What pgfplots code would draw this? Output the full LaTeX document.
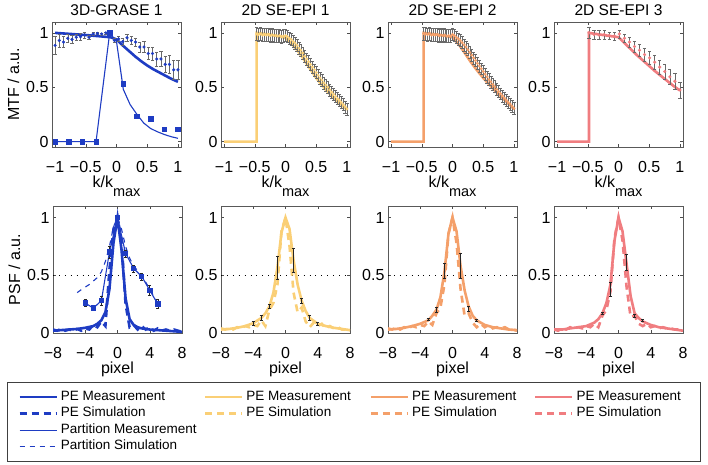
\documentclass[border=0pt]{standalone}
\usepackage{fontspec}
\setmainfont{Liberation Sans}
\usepackage{pgfplots}
\usepackage{pgfplotstable}
\pgfplotsset{compat=1.18}
\definecolor{cB}{RGB}{30,60,195}
\definecolor{cY}{RGB}{250,207,118}
\definecolor{cO}{RGB}{244,160,106}
\definecolor{cP}{RGB}{240,125,128}
\definecolor{cE}{RGB}{105,105,105}

\tikzset{
 thk/.style={line width=2.6pt},
 thn/.style={line width=1.1pt},
 thkd/.style={line width=2.6pt, dash pattern=on 7pt off 5pt},
 thnd/.style={line width=1.1pt, dash pattern=on 5pt off 5pt},
}
\pgfplotsset{
 base/.style={scale only axis, width=129pt, anchor=south west,
   axis line style={draw=black!65, line width=0.6pt},
   tick align=inside, major tick length=3pt, tick style={black!70, line width=0.5pt},
   ticklabel style={font=\fontsize{16}{19}\selectfont},
   label style={font=\fontsize{16}{19}\selectfont},
   title style={font=\fontsize{15.5}{18}\selectfont, yshift=-3pt},
   xticklabel style={anchor=base, yshift=-25pt},
   xlabel style={at={(axis description cs:0.5,0)}, anchor=base, yshift=-40pt},
   ytick={0,0.5,1}, yticklabels={0,0.5,1}},
 mtf/.style={base, height=125pt, xmin=-1.05, xmax=1.05, ymin=-0.05, ymax=1.1,
   xtick={-1,-0.5,0,0.5,1}, xticklabels={−1,−0.5,0,0.5,1},
   xlabel={k/k\raisebox{-9pt}{\fontsize{14.5}{15}\selectfont max}}},
 psf/.style={base, height=127pt, xmin=-8, xmax=8, ymin=0, ymax=1.1,
   xtick={-8,-4,0,4,8}, xticklabels={−8,−4,0,4,8}, xlabel={pixel}},
 eb/.style={error bars/.cd, y dir=both, y explicit,
   error bar style={draw=cE, line width=0.5pt, solid},
   error mark options={rotate=90, mark size=1.6pt, draw=cE, line width=0.5pt, solid}},
 ebk/.style={error bars/.cd, y dir=both, y explicit,
   error bar style={draw=black!85, line width=0.6pt, solid},
   error mark options={rotate=90, mark size=1.6pt, draw=black!85, line width=0.6pt, solid}},
}

\pgfplotstableread{
x y e
-1.000 0.885 0.080
-0.931 0.930 0.060
-0.862 0.915 0.050
-0.793 0.950 0.040
-0.724 0.940 0.040
-0.655 0.960 0.030
-0.586 0.965 0.030
-0.517 0.980 0.025
-0.448 0.960 0.020
-0.379 0.990 0.015
-0.310 0.995 0.010
-0.241 0.990 0.010
-0.172 1.000 0.010
-0.103 0.990 0.010
-0.034 0.930 0.020
0.034 0.945 0.025
0.103 0.920 0.030
0.172 0.955 0.030
0.241 0.930 0.035
0.310 0.915 0.040
0.379 0.870 0.045
0.448 0.870 0.050
0.517 0.810 0.055
0.586 0.810 0.060
0.655 0.760 0.065
0.724 0.760 0.070
0.793 0.710 0.075
0.862 0.710 0.080
0.931 0.660 0.085
1.000 0.660 0.090
}\tOneM

\pgfplotstableread{
x y e
-0.469 0.990 0.06
-0.438 0.985 0.06
-0.406 0.990 0.06
-0.375 0.980 0.06
-0.344 0.985 0.06
-0.313 0.980 0.06
-0.281 0.985 0.06
-0.250 0.975 0.06
-0.219 0.980 0.06
-0.188 0.975 0.06
-0.156 0.975 0.06
-0.125 0.970 0.06
-0.094 0.975 0.06
-0.063 0.965 0.06
-0.031 0.970 0.06
0.000 0.975 0.055
0.031 0.965 0.055
0.063 0.950 0.055
0.094 0.940 0.055
0.125 0.920 0.055
0.156 0.905 0.055
0.188 0.885 0.055
0.219 0.860 0.055
0.250 0.840 0.055
0.281 0.815 0.055
0.313 0.785 0.055
0.344 0.760 0.055
0.375 0.735 0.055
0.406 0.710 0.055
0.438 0.685 0.055
0.469 0.660 0.055
0.500 0.635 0.055
0.531 0.610 0.055
0.563 0.585 0.055
0.594 0.565 0.055
0.625 0.540 0.055
0.656 0.520 0.055
0.688 0.500 0.055
0.719 0.475 0.055
0.750 0.455 0.055
0.781 0.435 0.055
0.813 0.415 0.055
0.844 0.395 0.055
0.875 0.380 0.055
0.906 0.360 0.055
0.938 0.340 0.055
0.969 0.320 0.055
1.000 0.300 0.055
}\tTwoM

\pgfplotstableread{
x y e
-0.469 0.995 0.06
-0.438 0.990 0.06
-0.406 0.985 0.06
-0.375 0.990 0.06
-0.344 0.980 0.06
-0.313 0.985 0.06
-0.281 0.980 0.06
-0.250 0.985 0.06
-0.219 0.975 0.06
-0.188 0.980 0.06
-0.156 0.975 0.06
-0.125 0.980 0.06
-0.094 0.970 0.06
-0.063 0.975 0.06
-0.031 0.970 0.06
0.000 0.985 0.055
0.031 0.975 0.055
0.063 0.960 0.055
0.094 0.945 0.055
0.125 0.930 0.055
0.156 0.910 0.055
0.188 0.890 0.055
0.219 0.870 0.055
0.250 0.845 0.055
0.281 0.820 0.055
0.313 0.795 0.055
0.344 0.770 0.055
0.375 0.745 0.055
0.406 0.720 0.055
0.438 0.695 0.055
0.469 0.670 0.055
0.500 0.645 0.055
0.531 0.620 0.055
0.563 0.595 0.055
0.594 0.570 0.055
0.625 0.550 0.055
0.656 0.525 0.055
0.688 0.505 0.055
0.719 0.480 0.055
0.750 0.460 0.055
0.781 0.440 0.055
0.813 0.420 0.055
0.844 0.400 0.055
0.875 0.380 0.055
0.906 0.360 0.055
0.938 0.345 0.055
0.969 0.325 0.055
1.000 0.305 0.055
}\tThreeM

\pgfplotstableread{
x y e
-0.480 1.000 0.050
-0.398 0.985 0.040
-0.316 0.980 0.040
-0.233 0.985 0.040
-0.151 0.975 0.035
-0.069 0.970 0.035
0.013 0.990 0.035
0.096 0.950 0.040
0.178 0.915 0.045
0.260 0.875 0.050
0.342 0.840 0.055
0.424 0.800 0.060
0.507 0.770 0.060
0.589 0.730 0.065
0.671 0.685 0.065
0.753 0.645 0.070
0.836 0.595 0.070
0.918 0.555 0.075
1.000 0.475 0.075
}\tFourM

\begin{document}
\begin{tikzpicture}
\useasboundingbox (0,0) rectangle (708pt,464pt);

% ---------------- MTF row ----------------
\begin{axis}[mtf, at={(52pt,317pt)}, title={3D-GRASE 1}, ylabel={MTF / a.u.}]
\addplot[cB, thk] coordinates {(-1,1.0) (-0.5,0.98) (-0.1,0.96) (0,0.94) (0.1,0.885) (0.2,0.835) (0.3,0.785) (0.4,0.74) (0.5,0.70) (0.6,0.665) (0.7,0.635) (0.8,0.605) (0.9,0.575) (1.0,0.55)};
\addplot[cB, thn] coordinates {(-1,0) (-0.333,0) (-0.111,1.0) (0,0.92) (0.111,0.48) (0.222,0.34) (0.333,0.25) (0.444,0.17) (0.556,0.12) (0.667,0.09) (0.778,0.065) (0.889,0.045) (1,0.03)};
\addplot[cB, only marks, mark=square*, mark size=2.3pt] coordinates {(-1,0) (-0.778,0) (-0.556,0) (-0.333,0) (-0.111,1.0) (0.111,0.535) (0.333,0.235) (0.556,0.21) (0.778,0.115) (1,0.115)};
\addplot[cB, only marks, mark=*, mark size=1.4pt, eb] table[x=x, y=y, y error=e] {\tOneM};
\end{axis}

\begin{axis}[mtf, at={(221pt,317pt)}, title={2D SE-EPI 1}]
\addplot[cY, thk] coordinates {(-1,0) (-0.47,0) (-0.47,1.0) (-0.25,0.985) (0,0.955) (0.1,0.90) (0.2,0.835) (0.3,0.755) (0.4,0.67) (0.5,0.585) (0.6,0.515) (0.7,0.45) (0.8,0.395) (0.9,0.345) (1.0,0.295)};
\addplot[cY, only marks, mark=*, mark size=1.3pt, eb] table[x=x, y=y, y error=e] {\tTwoM};
\end{axis}

\begin{axis}[mtf, at={(388pt,317pt)}, title={2D SE-EPI 2}]
\addplot[cO, thk] coordinates {(-1,0) (-0.47,0) (-0.47,1.0) (-0.25,0.985) (0,0.96) (0.1,0.895) (0.2,0.815) (0.3,0.73) (0.4,0.655) (0.5,0.585) (0.6,0.525) (0.7,0.465) (0.8,0.41) (0.9,0.355) (1,0.30)};
\addplot[cO, only marks, mark=*, mark size=1.3pt, eb] table[x=x, y=y, y error=e] {\tThreeM};
\end{axis}

\begin{axis}[mtf, at={(554pt,317pt)}, title={2D SE-EPI 3}]
\addplot[cP, thk] coordinates {(-1,0) (-0.48,0) (-0.48,1.0) (-0.25,0.98) (0,0.96) (0.1,0.905) (0.2,0.85) (0.3,0.795) (0.4,0.745) (0.5,0.695) (0.6,0.645) (0.7,0.60) (0.8,0.555) (0.9,0.51) (1,0.47)};
\addplot[cP, only marks, mark=*, mark size=1.4pt, eb] table[x=x, y=y, y error=e] {\tFourM};
\end{axis}

% ---------------- PSF row ----------------
\begin{axis}[psf, at={(53pt,131pt)}, ylabel={PSF / a.u.}]
\addplot[black, line width=0.9pt, dash pattern=on 0.9pt off 5pt] coordinates {(-8,0.5) (8,0.5)};
\addplot[cB, thnd] coordinates {(-5,0.35) (-4.4,0.38) (-3.5,0.42) (-2.5,0.48) (-2,0.53) (-1.5,0.62) (-1,0.75) (-0.5,0.92) (0,1.0) (0.5,0.9) (1,0.75) (1.5,0.65) (2,0.58) (3,0.5) (4,0.38) (5,0.26)};
\addplot[cB, thn, mark=square*, mark size=2.2pt, mark options={solid}, ebk] coordinates {(-4,0.26) +- (0,0.03) (-3,0.215) +- (0,0.02) (-2,0.28) +- (0,0.04) (-1,0.70) +- (0,0.05) (0,1.0) +- (0,0) (1,0.69) +- (0,0.03) (2,0.56) +- (0,0.03) (3,0.49) +- (0,0.03) (4,0.37) +- (0,0.04) (5,0.25) +- (0,0.04)};
\addplot[cB, thk] coordinates {(-8,0.02) (-7,0.025) (-6,0.03) (-5,0.035) (-4,0.045) (-3,0.06) (-2.5,0.08) (-2,0.11) (-1.5,0.18) (-1,0.38) (-0.5,0.78) (0,1.0) (0.5,0.72) (1,0.3) (1.5,0.12) (2,0.07) (2.5,0.05) (3,0.04) (4,0.03) (5,0.025) (6,0.02) (7,0.015) (8,0.01)};
\addplot[cB, thkd] coordinates {(-8,0.03) (-7.5,0.02) (-7,0.035) (-6.5,0.02) (-6,0.03) (-5.5,0.02) (-5,0.035) (-4.5,0.02) (-4,0.04) (-3.5,0.03) (-3,0.07) (-2.5,0.05) (-2,0.1) (-1.5,0.06) (-1,0.55) (-0.5,0.9) (0,1.0) (0.5,0.8) (1,0.25) (1.5,0.05) (2,0.07) (2.5,0.03) (3,0.06) (3.5,0.03) (4,0.05) (4.5,0.02) (5,0.04) (5.5,0.02) (6,0.03) (6.5,0.02) (7,0.03) (8,0.01)};
\end{axis}

\begin{axis}[psf, at={(221pt,131pt)}]
\addplot[black, line width=0.9pt, dash pattern=on 0.9pt off 5pt] coordinates {(-8,0.5) (8,0.5)};
\addplot[cY, thkd] coordinates {(-8,0.04) (-7.5,0.03) (-7,0.04) (-6.5,0.03) (-6,0.05) (-5.5,0.04) (-5,0.06) (-4.5,0.05) (-4,0.07) (-3.5,0.06) (-3,0.11) (-2.5,0.06) (-2,0.2) (-1.5,0.26) (-1,0.42) (-0.5,0.88) (0,1.0) (0.5,0.75) (1,0.35) (1.5,0.18) (2,0.22) (2.5,0.1) (3,0.05) (3.5,0.09) (4,0.06) (4.5,0.08) (5,0.04) (5.5,0.06) (6,0.04) (6.5,0.05) (7,0.03) (7.5,0.03) (8,0.02)};
\addplot[cY, thk] coordinates {(-8,0.03) (-7,0.035) (-6,0.045) (-5,0.06) (-4,0.085) (-3,0.13) (-2.5,0.17) (-2,0.23) (-1.5,0.35) (-1,0.57) (-0.5,0.87) (0,1.0) (0.5,0.9) (1,0.63) (1.5,0.42) (2,0.28) (2.5,0.19) (3,0.13) (4,0.08) (5,0.06) (6,0.045) (7,0.035) (8,0.025)};
\addplot[draw=none, mark=none, ebk] coordinates {(-4,0.085) +- (0,0.015) (-3,0.13) +- (0,0.02) (-2,0.23) +- (0,0.02) (-1,0.565) +- (0,0.1) (1,0.63) +- (0,0.1) (2,0.28) +- (0,0.02) (3,0.13) +- (0,0.02) (4,0.08) +- (0,0.012)};
\end{axis}

\begin{axis}[psf, at={(388pt,131pt)}]
\addplot[black, line width=0.9pt, dash pattern=on 0.9pt off 5pt] coordinates {(-8,0.5) (8,0.5)};
\addplot[cO, thkd] coordinates {(-8,0.04) (-7.5,0.03) (-7,0.045) (-6.5,0.03) (-6,0.05) (-5.5,0.04) (-5,0.06) (-4.5,0.05) (-4,0.07) (-3.5,0.06) (-3,0.1) (-2.5,0.07) (-2,0.17) (-1.5,0.22) (-1,0.42) (-0.5,0.86) (0,1.0) (0.5,0.78) (1,0.38) (1.5,0.15) (2,0.17) (2.5,0.09) (3,0.05) (3.5,0.08) (4,0.05) (4.5,0.07) (5,0.04) (5.5,0.05) (6,0.04) (6.5,0.05) (7,0.03) (7.5,0.03) (8,0.02)};
\addplot[cO, thk] coordinates {(-8,0.03) (-7,0.035) (-6,0.045) (-5,0.06) (-4,0.08) (-3,0.11) (-2.5,0.15) (-2,0.2) (-1.5,0.31) (-1,0.53) (-0.5,0.86) (0,1.0) (0.5,0.88) (1,0.58) (1.5,0.37) (2,0.23) (2.5,0.15) (3,0.11) (4,0.07) (5,0.05) (6,0.04) (7,0.03) (8,0.025)};
\addplot[draw=none, mark=none, ebk] coordinates {(-3,0.12) +- (0,0.01) (-2,0.2) +- (0,0.02) (-1,0.535) +- (0,0.065) (1,0.58) +- (0,0.11) (2,0.21) +- (0,0.02) (3,0.11) +- (0,0.012)};
\end{axis}

\begin{axis}[psf, at={(554pt,131pt)}]
\addplot[black, line width=0.9pt, dash pattern=on 0.9pt off 5pt] coordinates {(-8,0.5) (8,0.5)};
\addplot[cP, thkd] coordinates {(-8,0.03) (-7.5,0.02) (-7,0.04) (-6.5,0.03) (-6,0.05) (-5.5,0.04) (-5,0.05) (-4.5,0.04) (-4,0.06) (-3.5,0.05) (-3,0.08) (-2.5,0.05) (-2,0.15) (-1.5,0.2) (-1,0.36) (-0.5,0.82) (0,1.0) (0.5,0.8) (1,0.4) (1.5,0.14) (2,0.15) (2.5,0.08) (3,0.06) (3.5,0.08) (4,0.05) (4.5,0.06) (5,0.04) (5.5,0.05) (6,0.04) (6.5,0.04) (7,0.03) (7.5,0.03) (8,0.02)};
\addplot[cP, thk] coordinates {(-8,0.03) (-7,0.03) (-6,0.04) (-5,0.05) (-4,0.06) (-3,0.09) (-2.5,0.12) (-2,0.17) (-1.5,0.26) (-1,0.42) (-0.5,0.8) (0,1.0) (0.5,0.88) (1,0.6) (1.5,0.32) (2,0.17) (2.5,0.13) (3,0.1) (4,0.07) (5,0.05) (6,0.04) (7,0.03) (8,0.02)};
\addplot[draw=none, mark=none, ebk] coordinates {(-2,0.17) +- (0,0.01) (-1,0.38) +- (0,0.06) (1,0.61) +- (0,0.07) (2,0.15) +- (0,0.01) (3,0.11) +- (0,0.01)};
\end{axis}

% ---------------- legend ----------------
\begin{axis}[at={(0pt,0pt)}, anchor=south west, scale only axis, width=708pt, height=464pt,
  xmin=0, xmax=1, ymin=0, ymax=1, hide axis,
  legend columns=4,
  legend image code/.code={\path (-7pt,0pt); \draw[#1] (0pt,0pt) -- (37pt,0pt);},
  legend style={at={(7/708,82/464)}, anchor=north west, draw=black!75, line width=0.6pt,
    inner xsep=4pt, inner ysep=8pt, row sep=3pt,
    font=\fontsize{13.5}{16}\selectfont,
    nodes={inner sep=0pt, text height=10pt, text depth=3.5pt},
    /tikz/every odd column/.append style={column sep=3pt}},
  legend cell align=left]
\addlegendimage{cB, thk}\addlegendentry{\makebox[136pt][l]{PE Measurement}}
\addlegendimage{cY, thk}\addlegendentry{\makebox[116pt][l]{PE Measurement}}
\addlegendimage{cO, thk}\addlegendentry{\makebox[115pt][l]{PE Measurement}}
\addlegendimage{cP, thk}\addlegendentry{\makebox[120pt][l]{PE Measurement}}
\addlegendimage{cB, thkd}\addlegendentry{PE Simulation}
\addlegendimage{cY, thkd}\addlegendentry{PE Simulation}
\addlegendimage{cO, thkd}\addlegendentry{PE Simulation}
\addlegendimage{cP, thkd}\addlegendentry{PE Simulation}
\addlegendimage{cB, thn}\addlegendentry{Partition Measurement}
\addlegendimage{empty legend}\addlegendentry{}
\addlegendimage{empty legend}\addlegendentry{}
\addlegendimage{empty legend}\addlegendentry{}
\addlegendimage{cB, thnd}\addlegendentry{Partition Simulation}
\addlegendimage{empty legend}\addlegendentry{}
\addlegendimage{empty legend}\addlegendentry{}
\addlegendimage{empty legend}\addlegendentry{}
\end{axis}
\end{tikzpicture}
\end{document}
